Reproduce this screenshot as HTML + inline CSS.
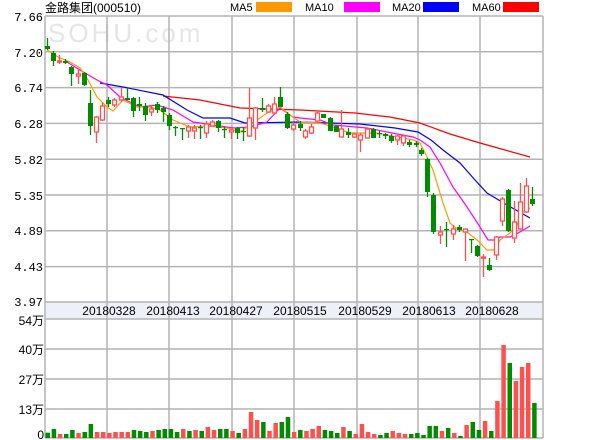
<!DOCTYPE html>
<html><head><meta charset="utf-8"><style>
html,body{margin:0;padding:0;background:#fff;width:600px;height:440px;overflow:hidden}
svg{display:block;font-family:"Liberation Mono","Noto Sans CJK SC",monospace}
</style></head><body>
<svg id="s" width="600" height="440" xmlns="http://www.w3.org/2000/svg">
<rect x="45" y="302" width="498" height="17" fill="#eef0f8"/>
<text x="48" y="42" font-family="Liberation Sans,sans-serif" font-size="26" fill="#e6e6e6" letter-spacing="3">SOHU.com</text>
<g id="grid" stroke="#b4b4b4" stroke-width="1.5" fill="none"></g>
<g font-size="12" fill="#000" text-anchor="end">
<text x="43" y="21">7.66</text><text x="43" y="57">7.20</text><text x="43" y="92">6.74</text><text x="43" y="128">6.28</text><text x="43" y="164">5.82</text><text x="43" y="200">5.35</text><text x="43" y="235">4.89</text><text x="43" y="271">4.43</text><text x="43" y="306">3.97</text>
<text x="44" y="325" font-family="Liberation Sans,'Noto Sans CJK SC',sans-serif">54万</text><text x="44" y="354" font-family="Liberation Sans,'Noto Sans CJK SC',sans-serif">40万</text><text x="44" y="384" font-family="Liberation Sans,'Noto Sans CJK SC',sans-serif">27万</text><text x="44" y="414" font-family="Liberation Sans,'Noto Sans CJK SC',sans-serif">13万</text><text x="44" y="439" font-family="Liberation Sans,'Noto Sans CJK SC',sans-serif">0</text>
</g>
<g font-size="12" text-anchor="middle" font-family="Liberation Sans,sans-serif">
<text x="109" y="315">20180328</text><text x="173" y="315">20180413</text><text x="236" y="315">20180427</text><text x="300" y="315">20180515</text><text x="365" y="315">20180529</text><text x="429" y="315">20180613</text><text x="492" y="315">20180628</text>
</g>
<text x="45" y="12" font-size="12" font-family="Liberation Sans,'Noto Sans CJK SC',sans-serif">金路集团(000510)</text>
<g font-size="11" font-family="Liberation Sans,sans-serif">
<text x="230" y="11">MA5</text><rect x="256" y="2" width="36" height="10" fill="#ff9900"/>
<text x="305" y="11">MA10</text><rect x="344" y="2" width="36" height="10" fill="#ff00ff"/>
<text x="392" y="11">MA20</text><rect x="423" y="2" width="36" height="10" fill="#0000ff"/>
<text x="472" y="11">MA60</text><rect x="503" y="2" width="36" height="10" fill="#ff0000"/>
</g>
<g id="vol"></g><g id="ma"></g><g id="c"></g>
</svg>
<script>
var NS="http://www.w3.org/2000/svg";
function el(p,t,a){var e=document.createElementNS(NS,t);for(var k in a)e.setAttribute(k,a[k]);document.getElementById(p).appendChild(e);return e;}
var vx=[45,107,169,232,294,357,418,480,543];
vx.forEach(function(x){el('grid','line',{x1:x,y1:16,x2:x,y2:438});});
[16,51.8,87.6,123.4,159.2,195,230.8,266.6,302,319,349,379,409,438].forEach(function(y){el('grid','line',{x1:45,y1:y,x2:543,y2:y});});
// candles: x, open_y, close_y, high_y, low_y
var C=[[47,46,49,38,50],[53,53,61,51,66],[59,62,61,55,64],[65,61,63,59,64],[71,67,74,66,86],[78,76,74,69,84],[84,73,85,72,86],[90,103,126,90,135],[96,132,117,116,143],[102,120,106,103,121],[108,100,104,97,107],[114,105,100,98,107],[121,100,97,88,102],[127,98,100,88,100],[133,98,111,97,117],[139,104,106,97,111],[145,106,115,103,121],[151,112,109,105,116],[157,104,110,102,113],[163,108,112,106,122],[169,115,126,113,130],[175,127,128,126,136],[182,128,129,128,140],[188,131,127,125,138],[194,131,128,125,139],[200,127,128,125,139],[206,133,124,121,138],[212,126,122,120,124],[218,121,128,120,132],[224,129,130,127,138],[231,132,130,129,139],[237,128,133,127,139],[243,131,132,127,141],[249,136,118,88,137],[255,128,108,107,140],[262,108,110,98,112],[268,112,106,104,112],[274,113,104,97,115],[280,97,107,87,107],[287,114,128,112,129],[293,129,125,122,131],[300,124,128,121,131],[305,137,131,129,139],[311,133,127,124,134],[317,121,113,112,122],[323,114,118,114,118],[330,118,131,117,131],[336,126,132,125,132],[341,137,129,110,137],[348,132,135,128,138],[354,137,134,133,138],[360,140,135,133,152],[367,138,129,128,138],[373,129,138,128,138],[379,133,134,131,138],[385,134,136,133,139],[391,136,141,134,143],[397,140,136,135,145],[403,143,136,135,146],[409,142,145,140,147],[416,143,145,141,147],[421,150,154,148,156],[427,159,192,158,197],[433,195,232,193,234],[440,235,232,226,244],[446,229,230,222,247],[453,234,229,225,240],[459,227,230,225,232],[465,232,229,229,261],[471,239,240,239,253],[477,246,256,245,257],[483,258,257,254,277],[489,265,270,258,271],[496,255,237,236,260],[502,221,199,197,226],[508,190,231,189,232],[514,238,222,201,243],[520,229,202,183,230],[526,212,186,178,213],[532,199,204,187,206]];
C.forEach(function(c){var up=c[2]<c[1];var col=up?'#ff5050':'#008c00';
el('c','line',{x1:c[0]+.5,y1:c[3],x2:c[0]+.5,y2:c[4],stroke:col,'stroke-width':1.3});
var t=Math.min(c[1],c[2]),h=Math.max(Math.abs(c[1]-c[2]),1.2);
if(up)el('c','rect',{x:c[0]-1.5,y:t,width:4,height:h,fill:'#fff',stroke:col,'stroke-width':1.3});
else el('c','rect',{x:c[0]-2,y:t,width:5,height:h,fill:col});});
function pl(pts,col){el('ma','polyline',{points:pts,fill:'none',stroke:col,'stroke-width':1.2});}
pl("163,96 200,100 240,108 300,110 355,113 390,117 420,123 450,134 480,143 505,150 530,157","#ff0000");
pl("100,83 123,87 163,95 187,110 203,118 230,118 245,123 300,122 360,124 395,128 418,132 431,140 443,150 460,163 475,180 487,193 507,205 530,218","#0000ff");
pl("67,62 80,70 97,80 107,85 120,97 140,107 157,105 173,110 193,122 213,125 233,128 250,127 267,122 280,108 293,117 300,118 320,120 333,125 367,128 387,132 413,137 420,140 430,147 440,163 453,187 467,207 480,227 488,240 495,240 500,237 510,237 520,232 530,226","#ff00ff");
pl("47,50 58,57 70,62 80,68 88,80 97,97 107,107 113,111 123,100 137,107 150,107 160,110 173,120 190,127 207,126 227,128 240,132 250,125 267,113 280,107 290,115 300,122 320,123 333,127 350,133 377,133 397,137 413,140 420,143 427,157 433,170 443,203 450,223 457,229 467,232 477,240 487,250 495,250 500,240 510,233 517,225 523,212 530,208","#ff9900");
var V="g428 g417 r432 g432 g420 r429 g426 g402 r426 r426 r429 r426 r426 r426 g420 g423 g426 r423 g420 g417 g417 g426 r417 g423 r420 g423 r411 r420 g417 g417 r423 g429 r417 r366 r390 g396 r423 r399 g396 g381 r426 g420 r423 r417 r408 g420 g423 g429 r411 g423 r432 r402 r426 r432 g435 g429 r423 r429 r432 g432 g429 g435 g408 g408 r423 g414 r429 g438 r405 g396 g420 r393 g423 r333 r165 g219 r273 r231 r219 g339".split(" ");
V.forEach(function(v,i){var x=45.5+i*6.16;var y=290+(+v.slice(1))/3;el('vol','rect',{x:x,y:y,width:4.5,height:438-y,fill:v[0]=='r'?'#ff5050':'#008c00'});});
</script>
</body></html>
